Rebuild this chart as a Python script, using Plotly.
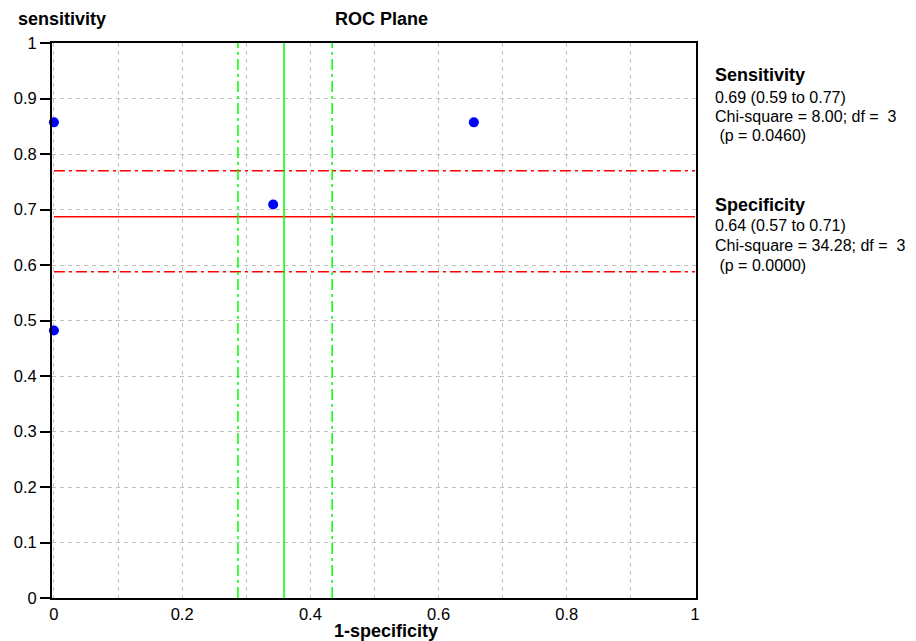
import plotly.graph_objects as go

# ---- data ----
one_minus_spec = [0.0, 0.0, 0.342, 0.655]
sensitivity = [0.857, 0.482, 0.709, 0.857]

sens_est = 0.687
sens_lo = 0.588
sens_hi = 0.770

fpr_est = 0.359   # 1 - specificity (0.64)
fpr_lo = 0.287    # 1 - 0.71
fpr_hi = 0.434    # 1 - 0.57

x_tickvals = [0, 0.1, 0.2, 0.3, 0.4, 0.5, 0.6, 0.7, 0.8, 0.9, 1.0]
x_ticktext = ["0", "", "0.2", "", "0.4", "", "0.6", "", "0.8", "", "1"]
y_tickvals = [0, 0.1, 0.2, 0.3, 0.4, 0.5, 0.6, 0.7, 0.8, 0.9, 1.0]
y_ticktext = ["0", "0.1", "0.2", "0.3", "0.4", "0.5", "0.6", "0.7", "0.8", "0.9", "1"]

sens_block = ["Sensitivity", "0.69 (0.59 to 0.77)", "Chi-square = 8.00; df =\u00a0\u00a03", "\u00a0(p = 0.0460)"]
spec_block = ["Specificity", "0.64 (0.57 to 0.71)", "Chi-square = 34.28; df =\u00a0\u00a03", "\u00a0(p = 0.0000)"]

FONT = "Liberation Sans, Arial, sans-serif"
REG = 16.5
ANN = 16
BSZ = 18

# page body has an 8px margin: lay out in window pixels, then shift
OFF = 8
WIN_W, WIN_H = 916, 641
W, H = WIN_W - OFF, WIN_H - OFF
PL, PR, PT, PB = 52, 696, 43, 598          # plot area in window pixels
L, T = PL - OFF, PT - OFF
R, B = W - (PR - OFF), H - (PB - OFF)
PW, PH = W - L - R, H - T - B

def px(xw):
    return (xw - OFF - L) / PW

def py(yw):
    return (H - B - (yw - OFF)) / PH

dashdot = "11px,4px,3px,4px"

fig = go.Figure()

# sensitivity lines (red)
fig.add_trace(go.Scatter(x=[0, 1], y=[sens_est, sens_est], mode="lines",
                         line=dict(color="#ff0000", width=1.5), hoverinfo="skip", showlegend=False))
for v in (sens_lo, sens_hi):
    fig.add_trace(go.Scatter(x=[0, 1], y=[v, v], mode="lines",
                             line=dict(color="#ff0000", width=1.5, dash=dashdot),
                             hoverinfo="skip", showlegend=False))
# specificity lines (green)
fig.add_trace(go.Scatter(x=[fpr_est, fpr_est], y=[0, 1], mode="lines",
                         line=dict(color="#00ff00", width=1.5), hoverinfo="skip", showlegend=False))
for v in (fpr_lo, fpr_hi):
    fig.add_trace(go.Scatter(x=[v, v], y=[0, 1], mode="lines",
                             line=dict(color="#00ff00", width=1.5, dash=dashdot),
                             hoverinfo="skip", showlegend=False))

fig.add_trace(go.Scatter(x=one_minus_spec, y=sensitivity, mode="markers",
                         marker=dict(color="#0000ff", size=10), showlegend=False, cliponaxis=False))

fig.update_layout(
    width=W, height=H,
    margin=dict(l=L, r=R, t=T, b=B, autoexpand=False),
    paper_bgcolor="white", plot_bgcolor="white",
    font=dict(family=FONT, size=REG, color="black"),
    showlegend=False,
)

fig.update_xaxes(
    range=[-0.003, 1.0015], tickvals=x_tickvals, ticktext=x_ticktext,
    showgrid=True, gridcolor="#c0c0c0", griddash="4px,4px", gridwidth=1,
    zeroline=False, showline=True, linecolor="black", linewidth=2, mirror=True,
    ticks="", ticklabelstandoff=0, automargin=False,
    tickfont=dict(family=FONT, size=REG, color="black"),
)
fig.update_yaxes(
    range=[0, 1], tickvals=y_tickvals, ticktext=y_ticktext,
    showgrid=True, gridcolor="#c0c0c0", griddash="4px,4px", gridwidth=1,
    zeroline=False, showline=True, linecolor="black", linewidth=2, mirror=True,
    ticks="outside", ticklen=10, tickcolor="black", tickwidth=1.5, automargin=False,
    tickfont=dict(family=FONT, size=REG, color="black"),
)

ann = []
ann.append(dict(text="<b>sensitivity</b>", x=px(16), y=py(19), xanchor="left", yanchor="middle",
                font=dict(family=FONT, size=BSZ, color="black")))
ann.append(dict(text="<b>ROC Plane</b>", x=px(381), y=py(19), xanchor="center", yanchor="middle",
                font=dict(family=FONT, size=BSZ, color="black")))
ann.append(dict(text="<b>1-specificity</b>", x=px(386), y=py(631), xanchor="center", yanchor="middle",
                font=dict(family=FONT, size=BSZ, color="black")))

for block, ys in ((sens_block, [75.5, 97, 116.5, 136]), (spec_block, [204.5, 225.5, 245.5, 265.5])):
    for i, (txt, yy) in enumerate(zip(block, ys)):
        if i == 0:
            t = "<b>" + txt + "</b>"
            f = dict(family=FONT, size=BSZ, color="black")
        else:
            t = txt
            f = dict(family=FONT, size=ANN, color="black")
        ann.append(dict(text=t, x=px(713), y=py(yy), xanchor="left", yanchor="middle", font=f))

for a in ann:
    a.update(xref="paper", yref="paper", showarrow=False)
fig.update_layout(annotations=ann)

fig.write_html("out.html")
